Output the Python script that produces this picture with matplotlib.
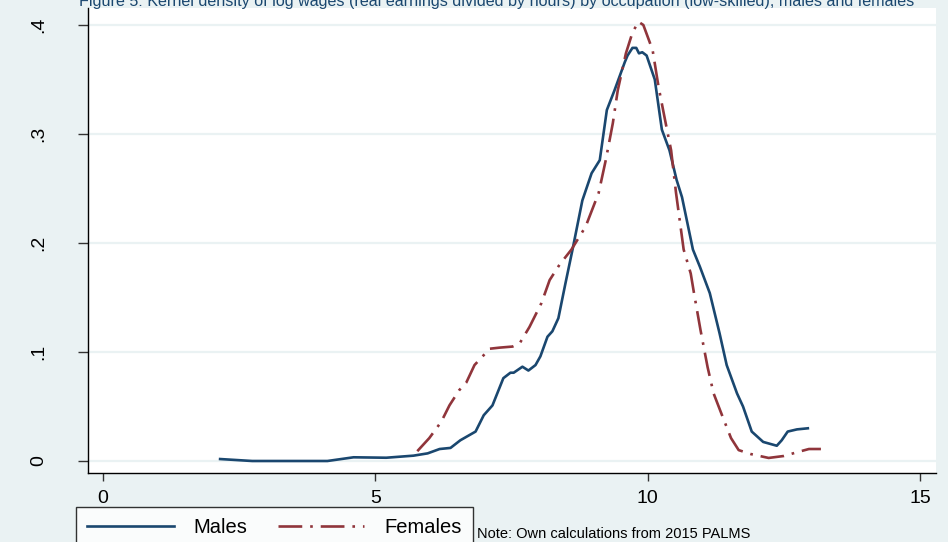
import matplotlib
matplotlib.use("Agg")
import matplotlib.pyplot as plt
from matplotlib.lines import Line2D

# ---- data ----
male_x = [2.15, 2.74, 3.5, 4.12, 4.6, 5.2, 5.7, 5.96, 6.18, 6.38, 6.56, 6.84, 6.99, 7.15,
          7.35, 7.48, 7.54, 7.70, 7.81, 7.94, 8.03, 8.16, 8.25, 8.36, 8.49, 8.62, 8.80,
          8.97, 9.12, 9.25, 9.39, 9.58, 9.63, 9.72, 9.79, 9.84, 9.90, 9.98, 10.13, 10.26,
          10.40, 10.53, 10.63, 10.83, 10.96, 11.14, 11.32, 11.45, 11.64, 11.75, 11.91,
          12.12, 12.37, 12.46, 12.57, 12.74, 12.94]
male_y = [0.0018, 0.0, 0.0, 0.0, 0.0034, 0.003, 0.0049, 0.007, 0.011, 0.012, 0.019, 0.027,
          0.042, 0.051, 0.076, 0.081, 0.081, 0.0865, 0.083, 0.088, 0.096, 0.114, 0.119,
          0.131, 0.163, 0.194, 0.239, 0.264, 0.276, 0.322, 0.340, 0.366, 0.372, 0.379,
          0.379, 0.374, 0.375, 0.372, 0.350, 0.304, 0.285, 0.258, 0.242, 0.194, 0.178,
          0.154, 0.117, 0.088, 0.062, 0.050, 0.027, 0.0175, 0.014, 0.019, 0.027, 0.029, 0.030]

female_x = [5.77, 5.99, 6.21, 6.36, 6.54, 6.67, 6.82, 6.95, 7.10, 7.28, 7.52, 7.65, 7.83,
            8.05, 8.20, 8.38, 8.60, 8.86, 9.10, 9.23, 9.36, 9.45, 9.60, 9.72, 9.83, 9.92,
            10.09, 10.20, 10.33, 10.43, 10.52, 10.66, 10.79, 10.85, 10.97, 11.10, 11.21,
            11.38, 11.53, 11.67, 11.89, 12.22, 12.50, 12.76, 12.96, 13.18]
female_y = [0.009, 0.021, 0.036, 0.051, 0.065, 0.072, 0.088, 0.095, 0.103, 0.104, 0.105,
            0.108, 0.123, 0.145, 0.166, 0.180, 0.194, 0.215, 0.246, 0.276, 0.310, 0.340,
            0.374, 0.393, 0.403, 0.400, 0.377, 0.343, 0.310, 0.285, 0.246, 0.194, 0.172,
            0.154, 0.120, 0.086, 0.062, 0.040, 0.021, 0.010, 0.0064, 0.0028, 0.0046,
            0.0083, 0.011, 0.011]

x_ticks = [0, 5, 10, 15]
x_tick_labels = ["0", "5", "10", "15"]
y_ticks = [0, 0.1, 0.2, 0.3, 0.4]
y_tick_labels = ["0", ".1", ".2", ".3", ".4"]
series_names = ["Males", "Females"]
title_text = ("Figure 5: Kernel density of log wages (real earnings divided by hours) "
              "by occupation (low-skilled), males and females")
note_text = "Note: Own calculations from 2015 PALMS"

# ---- style ----
plt.rcParams['font.family'] = ['Liberation Sans', 'DejaVu Sans']
BG = "#EAF2F3"
MALE_C = "#1A476F"
FEMALE_C = "#90353B"

fig = plt.figure(figsize=(9.48, 5.42), dpi=100, facecolor=BG)
ax = fig.add_axes([88/948, 1-473/542, (936-88)/948, (473-8)/542])
ax.set_facecolor("white")

for yv in y_ticks:
    ax.axhline(yv, color=BG, lw=1.6, zorder=0)

ax.plot(male_x, male_y, color=MALE_C, lw=1.9, solid_joinstyle='round', zorder=3)
ax.plot(female_x, female_y, color=FEMALE_C, lw=1.9, dashes=(9, 3, 1, 3), zorder=3)

ax.set_xlim((88-103)/54.47, (936-103)/54.47)
ax.set_ylim((461-473)/1090, (461-8)/1090)
ax.set_xticks(x_ticks)
ax.set_xticklabels(x_tick_labels)
ax.set_yticks(y_ticks)
ax.set_yticklabels(y_tick_labels, rotation=90, va='center')

for s in ["top", "right"]:
    ax.spines[s].set_visible(False)
ax.spines["left"].set_color("black")
ax.spines["bottom"].set_color("black")
ax.spines["left"].set_linewidth(1.0)
ax.spines["bottom"].set_linewidth(1.0)
ax.tick_params(axis='x', length=6, width=1, color='#333333', labelsize=14, pad=6)
ax.tick_params(axis='y', length=7, width=1, color='#333333', labelsize=14, pad=22)

# title (cut off at the top, as in the reference)
fig.text(497/948, 1-6/542, title_text, ha='center', va='baseline', fontsize=11.6,
         color=MALE_C)

handles = [Line2D([], [], color=MALE_C, lw=1.9),
           Line2D([], [], color=FEMALE_C, lw=1.9, dashes=(9, 3, 1, 3))]
leg = fig.legend(handles, series_names, ncol=2, loc='upper left',
                 bbox_to_anchor=(76/948, 1-507/542), fontsize=14.5,
                 frameon=True, fancybox=False, edgecolor='black',
                 handlelength=4.3, columnspacing=1.5, handletextpad=1.0,
                 borderpad=0.55, borderaxespad=0)
leg.get_frame().set_linewidth(1.0)
leg.get_frame().set_facecolor("white")

fig.text(477/948, 1-538/542, note_text, ha='left', va='baseline', fontsize=10.5,
         color='black')

fig.savefig("out.png", dpi=100, facecolor=BG)
